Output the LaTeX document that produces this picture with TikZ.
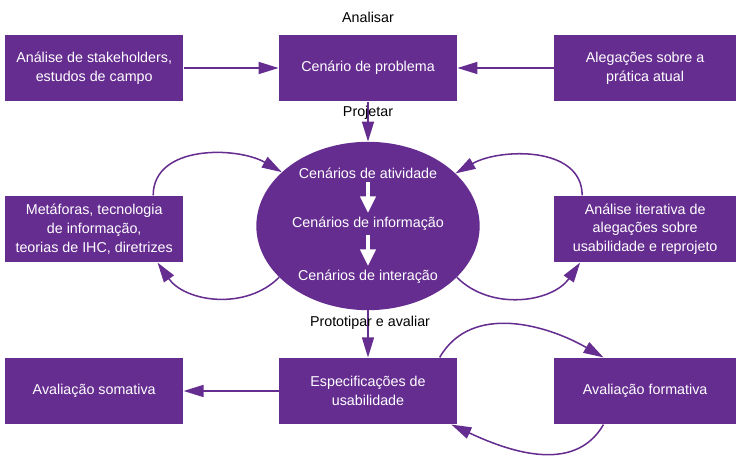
\documentclass[tikz,border=0pt]{standalone}
\usepackage{fontspec}
\setmainfont{Liberation Sans}
\usetikzlibrary{positioning,arrows.meta,shapes.geometric}
\definecolor{scenpurple}{HTML}{662D91}

\begin{document}
\begin{tikzpicture}[
    x=0.03cm, y=0.03cm,
    >={Triangle[length=0.6cm,width=0.36cm]},
    every node/.style={font=\fontsize{12.2}{16}\selectfont},
    box/.style={fill=scenpurple, text=white, minimum width=5.35cm, minimum height=2cm, inner sep=2pt, align=center},
    sidebox/.style={box, minimum width=5.45cm},
    scenarioblob/.style={ellipse, fill=scenpurple, minimum width=6.7cm, minimum height=5.05cm, inner sep=0pt},
    innertext/.style={text=white},
    phase/.style={text=black, inner sep=1pt},
    flowarrow/.style={->, line width=1.3pt, scenpurple},
    cyclearrow/.style={flowarrow},
    stepdown/.style={-{Triangle[length=0.5cm,width=0.45cm]}, line width=3.5pt, white},
]
\useasboundingbox (0,0) rectangle (736,460);

% ---- Rows ----
\coordinate (row1) at (368,392);
\coordinate (row2) at (368,231);
\coordinate (row3) at (368,69);

% ---- Top: Analisar ----
\node[box] (problema) at (row1) {Cenário de problema};
\node[box, left=2.85cm of problema] (stake) {Análise de stakeholders,\\estudos de campo};
\node[sidebox, right=2.9cm of problema] (alegacoes) {Alegações sobre a\\prática atual};

\draw[flowarrow] (stake) -- (problema);
\draw[flowarrow] (alegacoes) -- (problema);

% ---- Middle: Projetar ----
\node[scenarioblob] (cenarios) at (368,234) {};
\node[innertext] (atividade) at (368,287) {Cenários de atividade};
\node[innertext] (informacao) at (368,236) {Cenários de informação};
\node[innertext] (interacao) at (368,183) {Cenários de interação};
\draw[stepdown] (atividade) -- (informacao);
\draw[stepdown] (informacao) -- (interacao);

\node[box] (metaforas) at (stake |- row2) {Metáforas, tecnologia\\de informação,\\teorias de IHC, diretrizes};
\node[sidebox] (iterativa) at (alegacoes |- row2) {Análise iterativa de\\alegações sobre\\usabilidade e reprojeto};

\draw[flowarrow] (problema) -- (cenarios);

% Loops on both sides of the scenarios
\draw[cyclearrow] ([xshift=1.77cm]metaforas.north) to[out=90, in=150] (cenarios.148);
\draw[cyclearrow] (cenarios.210) to[out=225, in=-55] ([xshift=1.9cm]metaforas.south);
\draw[cyclearrow] ([xshift=-1.89cm]iterativa.north) to[out=90, in=30] (cenarios.31);
\draw[cyclearrow] (cenarios.-30) to[out=-45, in=-125] ([xshift=-1.95cm]iterativa.south);

% ---- Bottom: Prototipar e avaliar ----
\node[box] (specs) at (row3) {Especificações de\\usabilidade};
\node[box] (somativa) at (stake |- row3) {Avaliação somativa};
\node[sidebox] (formativa) at (alegacoes |- row3) {Avaliação formativa};

\draw[flowarrow] (cenarios) -- (specs);
\draw[flowarrow] (specs) -- (somativa);
\draw[cyclearrow] ([xshift=2.15cm]specs.north) to[out=60, in=150] ([xshift=-1.25cm]formativa.north);
\draw[cyclearrow] ([xshift=-1.25cm]formativa.south) to[out=-120, in=-25] ([xshift=2.5cm]specs.south);

% ---- Phase labels ----
\node[phase, above=0.3cm of problema] (analisar) {Analisar};
\node[phase, below=0.1cm of problema] (projetar) {Projetar};
\node[phase] (prototipar) at (370,137) {Prototipar e avaliar};

\end{tikzpicture}
\end{document}
